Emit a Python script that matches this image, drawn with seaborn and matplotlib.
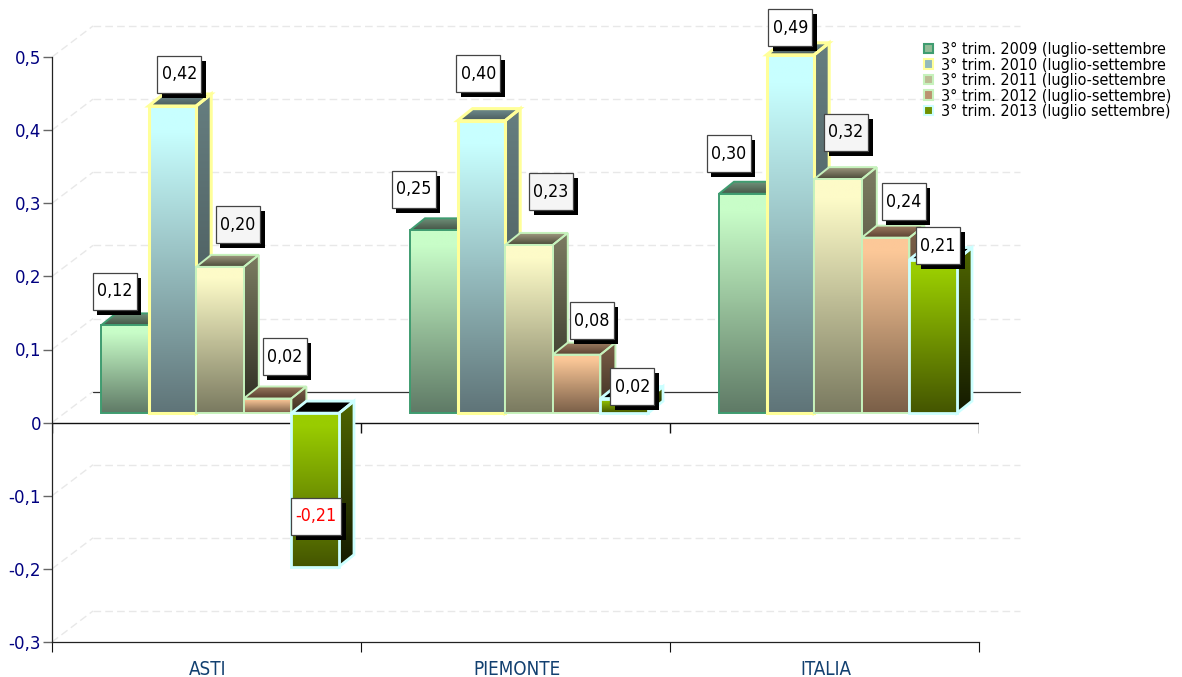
import numpy as np
import pandas as pd
import seaborn as sns
from matplotlib import pyplot as plt
from matplotlib.colors import LinearSegmentedColormap, to_rgb
from matplotlib.patches import Patch, Polygon, Rectangle

areas = ['ASTI', 'PIEMONTE', 'ITALIA']
series_names = ['3° trim. 2009 (luglio-settembre', '3° trim. 2010 (luglio-settembre',
				'3° trim. 2011 (luglio-settembre', '3° trim. 2012 (luglio-settembre)',
				'3° trim. 2013 (luglio settembre)']
values_2009 = [0.12, 0.25, 0.30]
values_2010 = [0.42, 0.40, 0.49]
values_2011 = [0.20, 0.23, 0.32]
values_2012 = [0.02, 0.08, 0.24]
values_2013 = [-0.21, 0.02, 0.21]
y_ticks = [-0.3, -0.2, -0.1, 0, 0.1, 0.2, 0.3, 0.4, 0.5]
y_tick_labels = ['-0,3', '-0,2', '-0,1', '0', '0,1', '0,2', '0,3', '0,4', '0,5']

# colours per series
face_top = ['#c8fdc8', '#c8ffff', '#fdfbc8', '#fcc898', '#99cc00']
face_bottom = ['#5f7a66', '#5f7478', '#7a7a60', '#7a5f48', '#445500']
side_top = ['#607a66', '#667e80', '#7c7c62', '#7c6049', '#4f6600']
side_bottom = ['#303d33', '#404e50', '#2c2c20', '#3a2c20', '#141a00']
roof_back = ['#6f9078', '#6f8c8c', '#a09a80', '#9a7a5f', '#000000']
roof_front = ['#465548', '#4a5a5c', '#4a4a38', '#5a4030', '#000000']
edge_colors = ['#3f9c70', '#ffff99', '#c6f2bc', '#c6f2bc', '#ccffff']
edge_widths = [1.4, 2.2, 1.4, 1.4, 2.0]
box_fills = ['white', 'white', '#f5f5f5', 'white', 'white']

# label box centre relative to the bar's top centre, in pixels (x right, y up)
label_offsets = [
	[(-10, 34), (7, 32), (18, 42), (17, 42), (1, -103)],
	[(-20, 41), (-3, 47), (22, 53), (15, 34), (8, 12)],
	[(-14, 40), (0, 27), (8, 47), (18, 36), (5, 14)],
]

PX_X = 1 / 309
PX_Y = 0.1 / 73.125
BASE = 9.5 * PX_Y
SHIFT = 13.5 * PX_X
DEPTH_X, DEPTH_Y = 15 * PX_X, 12 * PX_Y
WALL_X, WALL_Y = 41 * PX_X, 31 * PX_Y
XMIN, XMAX = -0.5 - SHIFT, 2.5 - SHIFT
GRID_DASH = (0, (5.5, 3))


def gradient_poly(ax, verts, top, bottom, z, hold=0.0):
	# vertical gradient clipped to a polygon
	verts = np.array(verts)
	cmap = LinearSegmentedColormap.from_list('g', [(0, top), (max(hold, 0.001), top), (1, bottom)])
	poly = Polygon(verts, closed=True, fc='none', ec='none', zorder=z, clip_on=False)
	ax.add_patch(poly)
	extent = [verts[:, 0].min(), verts[:, 0].max(), verts[:, 1].min(), verts[:, 1].max()]
	img = ax.imshow(np.linspace(0, 1, 128).reshape(-1, 1), cmap=cmap, extent=extent, origin='upper',
					aspect='auto', zorder=z, interpolation='bilinear')
	img.set_clip_box(fig.bbox)
	img.set_clip_path(poly)
	return poly


sns.set_theme(style='white')
plt.rcParams['font.family'] = ['DejaVu Sans']
plt.rcParams['font.stretch'] = 'condensed'

df = pd.DataFrame({
	'area': areas * 5,
	'serie': np.repeat(series_names, 3),
	'value': values_2009 + values_2010 + values_2011 + values_2012 + values_2013,
})

fig = plt.figure(figsize=(11.82, 6.77), dpi=100, facecolor='white')
ax = fig.add_axes([52 / 1182, 35 / 677, 927 / 1182, 585 / 677])

sns.barplot(data=df, x='area', y='value', hue='serie', order=areas, hue_order=series_names,
			palette=face_top, width=238 / 309, gap=0, saturation=1, errorbar=None,
			bottom=BASE, legend=False, ax=ax)

# back wall grid and diagonals
for t in y_ticks:
	ax.plot([XMIN, XMIN + WALL_X], [t, t + WALL_Y], color='#e8e8e8', lw=1, ls=GRID_DASH, zorder=1, clip_on=False)
	if t == 0:
		ax.plot([XMIN + WALL_X, XMAX + WALL_X], [t + WALL_Y, t + WALL_Y], color='#333333', lw=0.9, zorder=1, clip_on=False)
	else:
		ax.plot([XMIN + WALL_X, XMAX + WALL_X], [t + WALL_Y, t + WALL_Y], color='#e8e8e8', lw=1, ls=GRID_DASH, zorder=1, clip_on=False)

# 3D bars, later bars cover the side of the earlier ones
z = 3
for i, bars in enumerate(ax.containers):
	for j, bar in enumerate(bars):
		xl, xr = bar.get_x(), bar.get_x() + bar.get_width()
		lo, hi = sorted([bar.get_y(), bar.get_y() + bar.get_height()])
		side = [(xr, hi), (xr + DEPTH_X, hi + DEPTH_Y), (xr + DEPTH_X, lo + DEPTH_Y), (xr, lo)]
		roof = [(xl, hi), (xl + DEPTH_X, hi + DEPTH_Y), (xr + DEPTH_X, hi + DEPTH_Y), (xr, hi)]
		zz = z + j * 0.01
		for verts, c1, c2 in [(side, side_top[i], side_bottom[i]), (roof, roof_back[i], roof_front[i])]:
			gradient_poly(ax, verts, c1, c2, zz)
			ax.add_patch(Polygon(verts, closed=True, fc='none', ec=edge_colors[i], lw=edge_widths[i], zorder=zz + 0.1, clip_on=False))
		gradient_poly(ax, [(xl, hi), (xr, hi), (xr, lo), (xl, lo)], face_top[i], face_bottom[i], zz + 0.2, hold=0.08)
		bar.set_facecolor('none')
		bar.set_edgecolor(edge_colors[i])
		bar.set_linewidth(edge_widths[i])
		bar.set_zorder(zz + 0.3)
		bar.set_clip_on(False)
	z += 1

# value boxes with a black drop shadow
for i, bars in enumerate(ax.containers):
	for j, bar in enumerate(bars):
		value = bar.get_height()
		top = max(bar.get_y(), bar.get_y() + value)
		dx, dy = label_offsets[j][i]
		cx = bar.get_x() + bar.get_width() / 2 + dx * PX_X
		cy = top + dy * PX_Y
		w = (50 if value < 0 else 44) * PX_X
		h = 37 * PX_Y
		ax.add_patch(Rectangle((cx - w / 2 + 4.5 * PX_X, cy - h / 2 - 5 * PX_Y), w, h, fc='black', ec='none', zorder=20, clip_on=False))
		ax.add_patch(Rectangle((cx - w / 2, cy - h / 2), w, h, fc=box_fills[i], ec='#444444', lw=0.9, zorder=21, clip_on=False))
		ax.text(cx, cy, f'{value:.2f}'.replace('.', ','), ha='center', va='center', fontsize=12.8,
				color='red' if value < 0 else 'black', zorder=22)

# zero line with its ticks
bounds = [XMIN + k for k in range(4)]
ax.axhline(0, color='#111111', lw=1, zorder=2)
ax.vlines(bounds, -10 * PX_Y, 0, color='#111111', lw=1, zorder=2)

ax.set_xlim(XMIN, XMAX)
ax.set_ylim(-0.3, 0.5)
ax.set_xlabel('')
ax.set_ylabel('')
ax.set_xticks(bounds)
ax.set_xticklabels([])
ax.set_xticks([k - SHIFT + 1.5 * PX_X for k in range(3)], areas, minor=True)
ax.tick_params(axis='x', which='major', length=7.2, width=0.8, color='#111111', direction='out', bottom=True)
ax.tick_params(axis='x', which='minor', length=0, pad=13, labelsize=13.5, labelcolor='#124070')
ax.set_yticks(y_ticks, y_tick_labels)
ax.tick_params(axis='y', length=6.5, width=1, color='#666666', direction='out', left=True, pad=1.5, labelsize=13.3, labelcolor='#000080')
sns.despine(ax=ax)
for s in ['left', 'bottom']:
	ax.spines[s].set_linewidth(0.9)
	ax.spines[s].set_color('#222222')

handles = []
for i in range(5):
	mid = np.mean([to_rgb(face_top[i]), to_rgb(face_bottom[i])], axis=0)
	handles.append(Patch(facecolor=mid, edgecolor=edge_colors[i], linewidth=1.5, label=series_names[i]))
fig.legend(handles=handles, loc='upper left', bbox_to_anchor=(924.5 / 1182, 1 - 42 / 677), frameon=False, fontsize=11.55,
		   labelcolor='black', labelspacing=0.035, handlelength=0.55, handleheight=0.55, handletextpad=0.45, borderpad=0, borderaxespad=0)

fig.savefig('out.png', dpi=100)
